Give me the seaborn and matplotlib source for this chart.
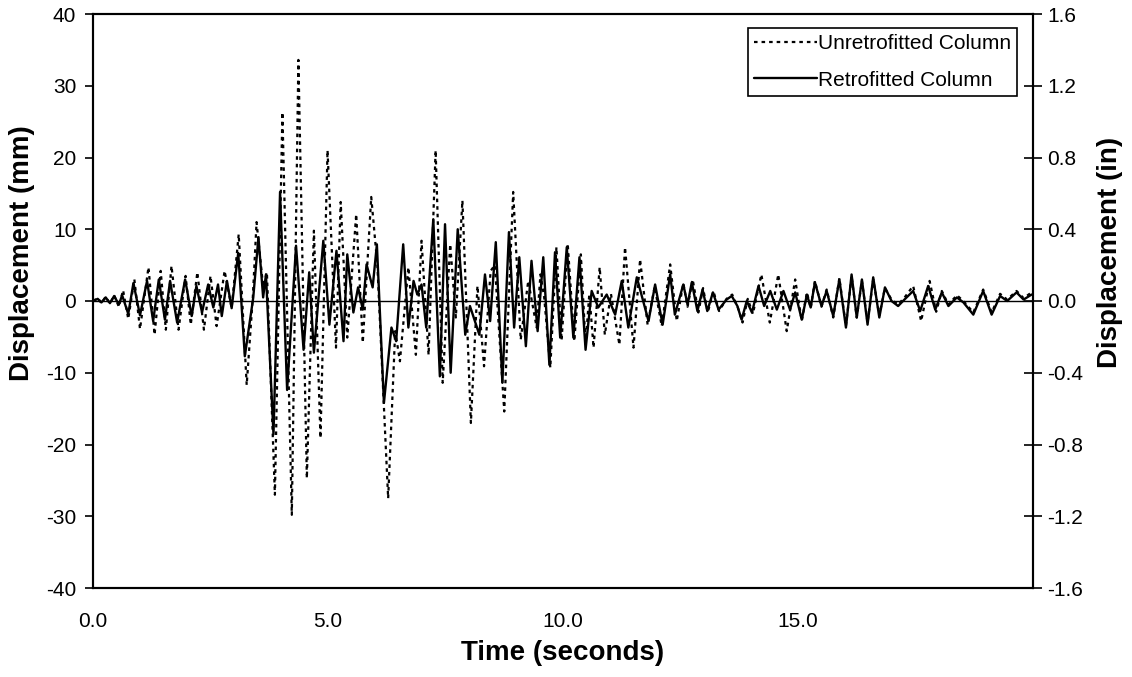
import matplotlib
matplotlib.use("Agg")
import matplotlib.pyplot as plt
import seaborn as sns
import pandas as pd

# Retrofitted column (solid) - time (s), displacement (mm)
t_retro = [0.00, 0.10, 0.18, 0.27, 0.36, 0.45, 0.55, 0.62, 0.75, 0.86, 1.00, 1.15, 1.28, 1.40, 1.53,
           1.64, 1.79, 1.96, 2.10, 2.20, 2.32, 2.45, 2.56, 2.66, 2.74, 2.85, 2.95, 3.09, 3.23, 3.41,
           3.52, 3.62, 3.68, 3.84, 3.98, 4.13, 4.32, 4.48, 4.60, 4.70, 4.90, 5.03, 5.18, 5.33, 5.41,
           5.54, 5.64, 5.74, 5.82, 5.95, 6.04, 6.19, 6.35, 6.45, 6.60, 6.71, 6.82, 6.90, 6.99, 7.09,
           7.24, 7.38, 7.49, 7.61, 7.76, 7.92, 8.02, 8.22, 8.34, 8.45, 8.57, 8.71, 8.85, 8.96, 9.07,
           9.21, 9.33, 9.46, 9.58, 9.71, 9.83, 9.94, 10.08, 10.22, 10.35, 10.48, 10.61, 10.75, 10.93,
           11.11, 11.25, 11.39, 11.57, 11.82, 11.96, 12.12, 12.28, 12.38, 12.56, 12.65, 12.74, 12.86,
           12.97, 13.07, 13.19, 13.31, 13.48, 13.59, 13.71, 13.80, 13.91, 14.02, 14.16, 14.28, 14.41,
           14.55, 14.69, 14.83, 14.94, 15.08, 15.19, 15.27, 15.36, 15.50, 15.61, 15.75, 15.88, 16.02,
           16.14, 16.25, 16.36, 16.48, 16.60, 16.73, 16.85, 16.99, 17.13, 17.28, 17.45, 17.60, 17.77,
           17.92, 18.06, 18.20, 18.38, 18.52, 18.73, 18.94, 19.12, 19.30, 19.45, 19.65, 19.80, 19.97]
d_retro = [0.0, 0.3, -0.2, 0.5, -0.3, 0.7, -0.5, 0.8, -1.8, 2.5, -2.0, 2.8, -2.8, 3.0, -2.6,
           2.8, -3.0, 3.0, -2.1, 2.1, -1.6, 2.3, -0.9, 2.3, -2.1, 2.8, -1.0, 6.7, -7.7, 0.5,
           8.9, 0.5, 3.7, -18.6, 15.2, -12.4, 7.7, -6.8, 4.0, -7.2, 8.4, -3.3, 7.0, -5.6, 6.5,
           -1.6, 1.9, -1.2, 5.1, 1.9, 7.9, -14.2, -3.7, -5.6, 7.9, -3.7, 2.8, 0.9, 2.3, -3.7,
           11.4, -10.5, 10.7, -10.0, 10.0, -4.7, -0.7, -4.7, 3.7, -2.8, 8.2, -11.4, 9.6, -3.7, 6.1,
           -6.3, 5.6, -4.2, 6.1, -8.9, 6.8, -5.1, 7.5, -5.1, 6.1, -6.8, 1.4, -0.9, 0.9,
           -1.9, 2.8, -3.7, 3.3, -2.8, 2.3, -3.3, 3.7, -1.9, 2.3, -0.5, 2.6, -1.4,
           1.6, -1.4, 1.2, -1.2, 0.2, 0.7, -0.7, -2.6, 0.0, -1.6, 2.1, -0.7, 1.4,
           -1.2, 1.4, -1.2, 1.2, -2.6, 0.9, -0.9, 2.6, -0.7, 1.4, -2.1, 3.0, -3.7,
           3.7, -2.3, 3.0, -3.3, 3.3, -2.3, 1.9, 0.0, -0.7, 0.3, 1.4, -1.4, 2.1,
           -1.2, 1.2, -0.7, 0.5, -0.2, -1.9, 1.4, -1.9, 0.7, 0.0, 1.2, 0.2, 0.9]

# Unretrofitted column (dotted) - time (s), displacement (mm)
t_unretro = [0.00, 0.10, 0.18, 0.27, 0.36, 0.45, 0.55, 0.64, 0.75, 0.88, 1.00, 1.18, 1.31, 1.44, 1.55,
             1.67, 1.82, 1.97, 2.08, 2.22, 2.36, 2.50, 2.63, 2.80, 2.95, 3.10, 3.27, 3.40, 3.48, 3.62,
             3.70, 3.87, 4.03, 4.23, 4.37, 4.55, 4.70, 4.84, 4.99, 5.17, 5.27, 5.41, 5.60, 5.74, 5.92,
             6.05, 6.28, 6.43, 6.53, 6.71, 6.87, 6.99, 7.14, 7.29, 7.44, 7.60, 7.72, 7.86, 8.04, 8.18,
             8.32, 8.46, 8.55, 8.75, 8.94, 9.10, 9.26, 9.44, 9.52, 9.60, 9.73, 9.86, 9.97, 10.10, 10.24,
             10.38, 10.48, 10.56, 10.65, 10.78, 10.89, 11.02, 11.20, 11.32, 11.50, 11.64, 11.80, 11.95,
             12.10, 12.28, 12.42, 12.56, 12.65, 12.76, 12.88, 12.98, 13.08, 13.20, 13.32, 13.48, 13.60,
             13.72, 13.82, 13.93, 14.04, 14.22, 14.40, 14.58, 14.76, 14.94, 15.08, 15.19, 15.27, 15.36,
             15.50, 15.61, 15.75, 15.88, 16.02, 16.14, 16.25, 16.36, 16.48, 16.60, 16.73, 16.85, 16.99,
             17.13, 17.28, 17.45, 17.62, 17.80, 17.94, 18.06, 18.20, 18.38, 18.52, 18.73, 18.94, 19.12,
             19.30, 19.45, 19.65, 19.80, 19.97]
d_unretro = [0.0, 0.4, -0.3, 0.6, -0.4, 0.8, -0.8, 1.5, -2.5, 3.0, -3.9, 4.7, -4.7, 4.2, -4.0,
             4.9, -4.0, 3.5, -3.3, 4.0, -4.0, 3.5, -3.5, 4.2, -1.0, 9.3, -11.7, 0.5, 11.0, 2.0,
             4.0, -27.0, 26.3, -29.8, 33.6, -24.7, 9.8, -19.1, 21.0, -6.5, 13.8, -5.1, 12.1, -5.8, 14.5,
             5.0, -27.5, -4.2, -8.4, 4.7, -7.5, 8.4, -7.5, 21.0, -11.4, 7.9, -2.3, 14.0, -17.0, 2.1,
             -9.1, 4.2, 5.0, -15.4, 15.2, -5.4, 2.8, -3.7, 3.7, 0.5, -9.3, 7.5, -5.5, 8.0, -5.6,
             6.5, -6.0, 1.0, -6.5, 4.7, -4.7, 1.0, -6.1, 7.5, -6.5, 5.8, -3.3, 2.0,
             -3.5, 5.1, -2.8, 2.5, -0.8, 3.0, -1.6, 1.8, -1.6, 1.4, -1.4, 0.3, 0.9,
             -0.9, -3.0, 0.3, -1.8, 3.7, -3.0, 3.7, -4.2, 3.0, -2.8, 1.2, -1.0, 2.8,
             -0.8, 1.6, -2.3, 3.2, -3.5, 3.5, -2.3, 2.8, -3.0, 3.0, -2.0, 1.8, 0.2,
             -0.5, 0.6, 2.1, -2.8, 2.8, -1.5, 1.4, -0.5, 0.8, 0.0, -1.6, 1.6, -1.6,
             1.0, 0.2, 1.4, 0.4, 1.2]

x_ticks = [0, 5, 10, 15]
x_ticklabels = ["0.0", "5.0", "10.0", "15.0"]
y_left_ticks = [-40, -30, -20, -10, 0, 10, 20, 30, 40]
y_right_ticks = [-1.6, -1.2, -0.8, -0.4, 0.0, 0.4, 0.8, 1.2, 1.6]

sns.set_style("white")
plt.rcParams['font.family'] = ['Liberation Sans', 'DejaVu Sans']
plt.rcParams.update({"text.color": "black", "axes.labelcolor": "black",
                     "xtick.color": "black", "ytick.color": "black",
                     "axes.edgecolor": "black"})

fig = plt.figure(figsize=(11.32, 6.77), dpi=100)
ax = fig.add_axes([93/1132, 1 - 588/677, 940/1132, 574/677])

df_u = pd.DataFrame({"t": t_unretro, "d": d_unretro})
df_r = pd.DataFrame({"t": t_retro, "d": d_retro})

ax.axhline(0, color="black", lw=1.0, zorder=1)
sns.lineplot(data=df_u, x="t", y="d", ax=ax, color="black", lw=1.6,
             linestyle=(0, (1.6, 1.8)), estimator=None, sort=False,
             label="Unretrofitted Column", zorder=2)
sns.lineplot(data=df_r, x="t", y="d", ax=ax, color="black", lw=1.7,
             estimator=None, sort=False, label="Retrofitted Column", zorder=3)

ax.set_xlim(0, 20)
ax.set_ylim(-40, 40)
ax.set_xticks(x_ticks)
ax.set_xticklabels(x_ticklabels)
ax.set_yticks(y_left_ticks)
ax.set_yticklabels([str(v) for v in y_left_ticks])
ax.tick_params(axis="x", length=0, labelsize=15, pad=17, colors="black")
ax.tick_params(axis="y", direction="out", length=6, width=1.2, labelsize=15, left=True, pad=6,
               colors="black")
for s in ax.spines.values():
    s.set_color("black")
    s.set_linewidth(1.5)

ax.set_xlabel("Time (seconds)", fontsize=20, fontweight="bold", labelpad=7, color="black")
ax.set_ylabel("Displacement (mm)", fontsize=20, fontweight="bold", color="black")
ax.yaxis.set_label_coords(-0.062, 0.584)

ax2 = ax.twinx()
ax2.set_ylim(-1.6, 1.6)
ax2.set_yticks(y_right_ticks)
ax2.set_yticklabels([f"{v:.1f}" for v in y_right_ticks])
ax2.tick_params(axis="y", direction="inout", length=13, width=1.2, labelsize=15, right=True, pad=4,
                colors="black")
ax2.set_ylabel("Displacement (in)", fontsize=20, fontweight="bold", color="black")
ax2.yaxis.set_label_coords(1.068, 0.584)
for s in ax2.spines.values():
    s.set_color("black")
    s.set_linewidth(1.5)

leg = ax.legend(loc="upper right", bbox_to_anchor=(0.983, 0.976), borderaxespad=0,
                frameon=True, fancybox=False, edgecolor="black", framealpha=1.0, fontsize=15,
                handlelength=3.0, handletextpad=0.05, labelspacing=0.85, borderpad=0.3)
leg.get_frame().set_linewidth(1.2)
for txt in leg.get_texts():
    txt.set_color("black")

fig.savefig("out.png", dpi=100)
